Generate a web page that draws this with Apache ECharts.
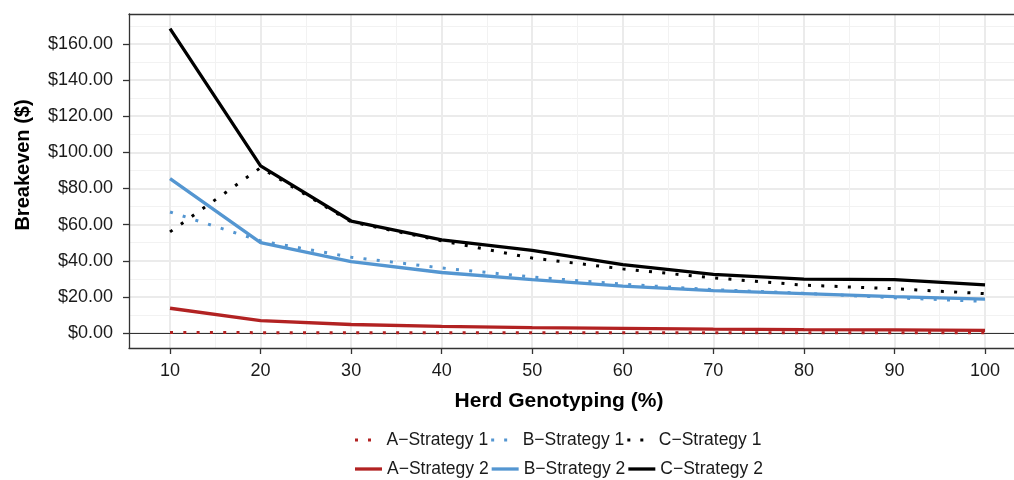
<!DOCTYPE html>
<html>
<head>
<meta charset="utf-8">
<script src="https://cdn.jsdelivr.net/npm/echarts@6/dist/echarts.min.js"></script>
<style>html,body{margin:0;padding:0;background:#fff;}#c{width:1014px;height:480px;}</style>
</head>
<body>
<div id="c"></div>
<script>
const xValues = [10, 20, 30, 40, 50, 60, 70, 80, 90, 100];
const aStrategy1 = [0.3, 0.2, 0.1, 0.1, 0.1, 0.1, 0.1, 0.1, 0.1, 0.1];
const bStrategy1 = [67, 51, 42, 36, 31, 27, 24, 22, 19.5, 17.5];
const cStrategy1 = [56, 91.5, 61.5, 51, 41.5, 35.5, 30.5, 26.5, 24.5, 21.8];
const aStrategy2 = [13.7, 6.9, 4.7, 3.7, 3.0, 2.6, 2.2, 1.9, 1.7, 1.5];
const bStrategy2 = [85.5, 50, 39.5, 33.5, 29.5, 26, 23.5, 21.8, 20.1, 18.8];
const cStrategy2 = [168.5, 92.5, 62, 51.5, 45.8, 37.8, 32.5, 29.8, 29.5, 26.6];
const yTicks = [0, 20, 40, 60, 80, 100, 120, 140, 160];
const yMinorTicks = [10, 30, 50, 70, 90, 110, 130, 150, 170];
const xTicks = [10, 20, 30, 40, 50, 60, 70, 80, 90, 100];
const xMinorTicks = [15, 25, 35, 45, 55, 65, 75, 85, 95];
const names1 = ['A\u2212Strategy 1', 'B\u2212Strategy 1', 'C\u2212Strategy 1'];
const names2 = ['A\u2212Strategy 2', 'B\u2212Strategy 2', 'C\u2212Strategy 2'];

const RED = '#B22222', BLUE = '#5496D1', BLACK = '#000000';
const FONT = 'Liberation Sans, Arial, sans-serif';
const X_MIN = 5.47, X_MAX = 103.2, Y_MIN = -8.3, Y_MAX = 176.6;
const DOT_ICON = 'path://M1,0h3v3h-3z M14,0h3v3h-3z M26.95,0h0.05v0.05h-0.05z';
const SOLID_ICON = 'rect';

function pairs(arr) { return xValues.map((x, i) => [x, arr[i]]); }

function lineSeries(name, data, color, dotted, z) {
  return {
    name: name, type: 'line', data: pairs(data), showSymbol: false, symbol: 'none',
    z: z, silent: true,
    lineStyle: dotted ? { color: color, width: 3, type: [3, 10.3], cap: 'butt' } : { color: color, width: 3.3 },
    itemStyle: { color: color }
  };
}

const chart = echarts.init(document.getElementById('c'));
const series = [
  lineSeries(names1[0], aStrategy1, RED, true, 3),
  lineSeries(names1[1], bStrategy1, BLUE, true, 3),
  lineSeries(names1[2], cStrategy1, BLACK, true, 3),
  lineSeries(names2[0], aStrategy2, RED, false, 4),
  lineSeries(names2[1], bStrategy2, BLUE, false, 4),
  lineSeries(names2[2], cStrategy2, BLACK, false, 4)
];
series[0].markLine = {
  silent: true, symbol: 'none', label: { show: false },
  lineStyle: { color: '#333', width: 1.2, type: 'solid' },
  data: [{ yAxis: 0 }], z: 2, animation: false
};

const axisLineStyle = { color: '#333', width: 1.3 };
const legendText = { fontFamily: FONT, fontSize: 17.5, color: '#1a1a1a' };

chart.setOption({
  animation: false,
  backgroundColor: '#fff',
  grid: { left: 129, top: 14, right: 0, bottom: 132, show: false },
  xAxis: [
    {
      type: 'value', min: X_MIN, max: X_MAX, position: 'bottom',
      axisLine: { show: true, onZero: false, lineStyle: axisLineStyle },
      axisTick: { show: true, length: 6, lineStyle: axisLineStyle, customValues: xTicks },
      axisLabel: { customValues: xTicks, color: '#1a1a1a', fontSize: 18, fontFamily: FONT, margin: 14 },
      splitLine: { show: true, lineStyle: { color: '#ebebeb', width: 2 } }
    },
    {
      type: 'value', min: X_MIN, max: X_MAX, position: 'top',
      axisLine: { show: true, onZero: false, lineStyle: axisLineStyle }, axisLabel: { show: false },
      axisTick: { show: false, customValues: xMinorTicks },
      splitLine: { show: true, lineStyle: { color: '#f2f2f2', width: 1 } }
    }
  ],
  yAxis: [
    {
      type: 'value', min: Y_MIN, max: Y_MAX, position: 'left',
      axisLine: { show: true, onZero: false, lineStyle: axisLineStyle },
      axisTick: { show: true, length: 6, lineStyle: axisLineStyle, customValues: yTicks },
      axisLabel: { customValues: yTicks, color: '#1a1a1a', fontSize: 18, fontFamily: FONT, margin: 16,
        formatter: v => '$' + v.toFixed(2) },
      splitLine: { show: true, lineStyle: { color: '#ebebeb', width: 2 } }
    },
    {
      type: 'value', min: Y_MIN, max: Y_MAX, position: 'left',
      axisLine: { show: false }, axisLabel: { show: false },
      axisTick: { show: false, customValues: yMinorTicks },
      splitLine: { show: true, lineStyle: { color: '#f2f2f2', width: 1 } }
    }
  ],
  title: [
    { text: 'Herd Genotyping (%)', left: 554, top: 386, textAlign: 'center',
      textStyle: { fontFamily: FONT, fontSize: 21, fontWeight: 'bold', color: '#000' } }
  ],
  graphic: [
    { type: 'text', x: 23, y: 165, rotation: Math.PI / 2,
      style: { text: 'Breakeven ($)', font: 'bold 20px Liberation Sans, Arial, sans-serif', fill: '#000', align: 'center', verticalAlign: 'middle' } }
  ],
  legend: [
    { data: names1.map(n => ({ name: n, icon: DOT_ICON })), left: 355, top: 431, padding: 0, orient: 'horizontal',
      itemWidth: 27, itemHeight: 3, itemGap: 3, textStyle: legendText, selectedMode: false },
    { data: names2.map(n => ({ name: n, icon: SOLID_ICON })), left: 355, top: 460, padding: 0, orient: 'horizontal',
      itemWidth: 27, itemHeight: 3.3, itemGap: 3, textStyle: legendText, selectedMode: false }
  ],
  series: series
});
</script>
</body>
</html>
